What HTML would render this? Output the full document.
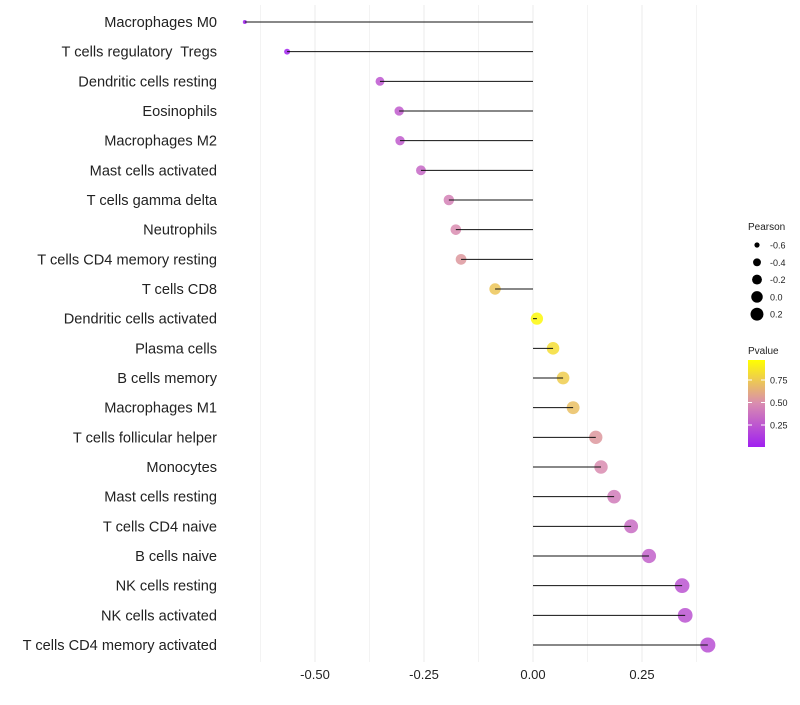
<!DOCTYPE html>
<html><head><meta charset="utf-8"><style>
body{margin:0;background:#fff;}
svg{font-family:"Liberation Sans",sans-serif;}
text{white-space:pre;}
</style></head><body>
<svg id="chart" width="800" height="700"></svg>
<script>
const categories=["Macrophages M0","T cells regulatory  Tregs","Dendritic cells resting","Eosinophils","Macrophages M2","Mast cells activated","T cells gamma delta","Neutrophils","T cells CD4 memory resting","T cells CD8","Dendritic cells activated","Plasma cells","B cells memory","Macrophages M1","T cells follicular helper","Monocytes","Mast cells resting","T cells CD4 naive","B cells naive","NK cells resting","NK cells activated","T cells CD4 memory activated"];
const pearson=[-0.661,-0.564,-0.351,-0.307,-0.305,-0.257,-0.193,-0.177,-0.165,-0.087,0.009,0.046,0.069,0.092,0.144,0.156,0.186,0.225,0.266,0.342,0.349,0.401];
const pvalue=[0.0,0.01,0.25,0.27,0.27,0.33,0.45,0.5,0.55,0.75,0.97,0.85,0.78,0.72,0.55,0.5,0.42,0.35,0.3,0.24,0.24,0.22];
const xTicks=[-0.5,-0.25,0,0.25];
const xTickLabels=["-0.50","-0.25","0.00","0.25"];
const sizeLegend=[-0.6,-0.4,-0.2,0.0,0.2];
const sizeLegendLabels=["-0.6","-0.4","-0.2","0.0","0.2"];
const colorTicks=[0.25,0.5,0.75];
const colorTickLabels=["0.25","0.50","0.75"];

const NS="http://www.w3.org/2000/svg";
const svg=document.getElementById('chart');
function mk(t,a,p){const e=document.createElementNS(NS,t);for(const k in a)e.setAttribute(k,a[k]);(p||svg).appendChild(e);return e;}
const x=v=>533+v*436;
const y=i=>22+i*(623/21);
const r=v=>Math.sqrt(Math.max(1,4+(v+0.661)*50));
const rl=v=>Math.sqrt(Math.max(1,4+(v+0.661)*44));
function lerp(a,b,t){return a.map((c,i)=>Math.round(c+(b[i]-c)*t));}
function col(p){const A=[160,32,240],M=[217,140,176],B=[255,255,0];const c=p<0.5?lerp(A,M,p/0.5):lerp(M,B,(p-0.5)/0.5);return `rgb(${c[0]},${c[1]},${c[2]})`;}

for(let v=-0.625;v<=0.376;v+=0.125){
  const l=mk('line',{x1:x(v),x2:x(v),y1:5,y2:662,stroke:'#ebebeb','stroke-width':Math.abs(v*4-Math.round(v*4))<1e-6?1:0.6});
  
  
}
xTicks.forEach((v,i)=>{
  const t=mk('text',{x:x(v),y:679,'text-anchor':'middle','font-size':13,fill:'#222'});
  t.textContent=xTickLabels[i];
  
  
});
categories.forEach((c,i)=>{
  const t=mk('text',{x:217,y:y(i)+5,'text-anchor':'end','font-size':14.6,fill:'#222'});
  t.textContent=c;
  
  
  const pt=mk('circle',{cx:x(pearson[i]),cy:y(i),r:r(pearson[i]),fill:col(pvalue[i]),'fill-opacity':0.85});
  
  
  const s=mk('line',{x1:x(0),x2:x(pearson[i]),y1:y(i),y2:y(i),stroke:'#111','stroke-width':1});
  
  
});
const lt=mk('text',{x:748,y:230,'font-size':10,fill:'#222'});lt.textContent='Pearson';


sizeLegend.forEach((v,i)=>{
  const cy=245+i*17.3;
  const c=mk('circle',{cx:757,cy:cy,r:rl(v),fill:'#000'});
  
  
  const t=mk('text',{x:770,y:cy+3.5,'font-size':9,fill:'#222'});t.textContent=sizeLegendLabels[i];
  
  
});
const ct=mk('text',{x:748,y:354,'font-size':10,fill:'#222'});ct.textContent='Pvalue';


const defs=mk('defs',{});
const g=mk('linearGradient',{id:'pg',x1:0,y1:1,x2:0,y2:0},defs);
[0,0.5,1].forEach(o=>mk('stop',{offset:o,'stop-color':col(o)},g));
const bar=mk('rect',{x:748,y:360,width:17,height:87,fill:'url(#pg)'});


colorTicks.forEach((v,i)=>{
  const yy=447.5-v*90;
  mk('line',{x1:748,x2:752,y1:yy,y2:yy,stroke:'#fff'});
  mk('line',{x1:761,x2:765,y1:yy,y2:yy,stroke:'#fff'});
  const t=mk('text',{x:770,y:yy+3.5,'font-size':9,fill:'#222'});t.textContent=colorTickLabels[i];
  
  
});
</script>
</body></html>
